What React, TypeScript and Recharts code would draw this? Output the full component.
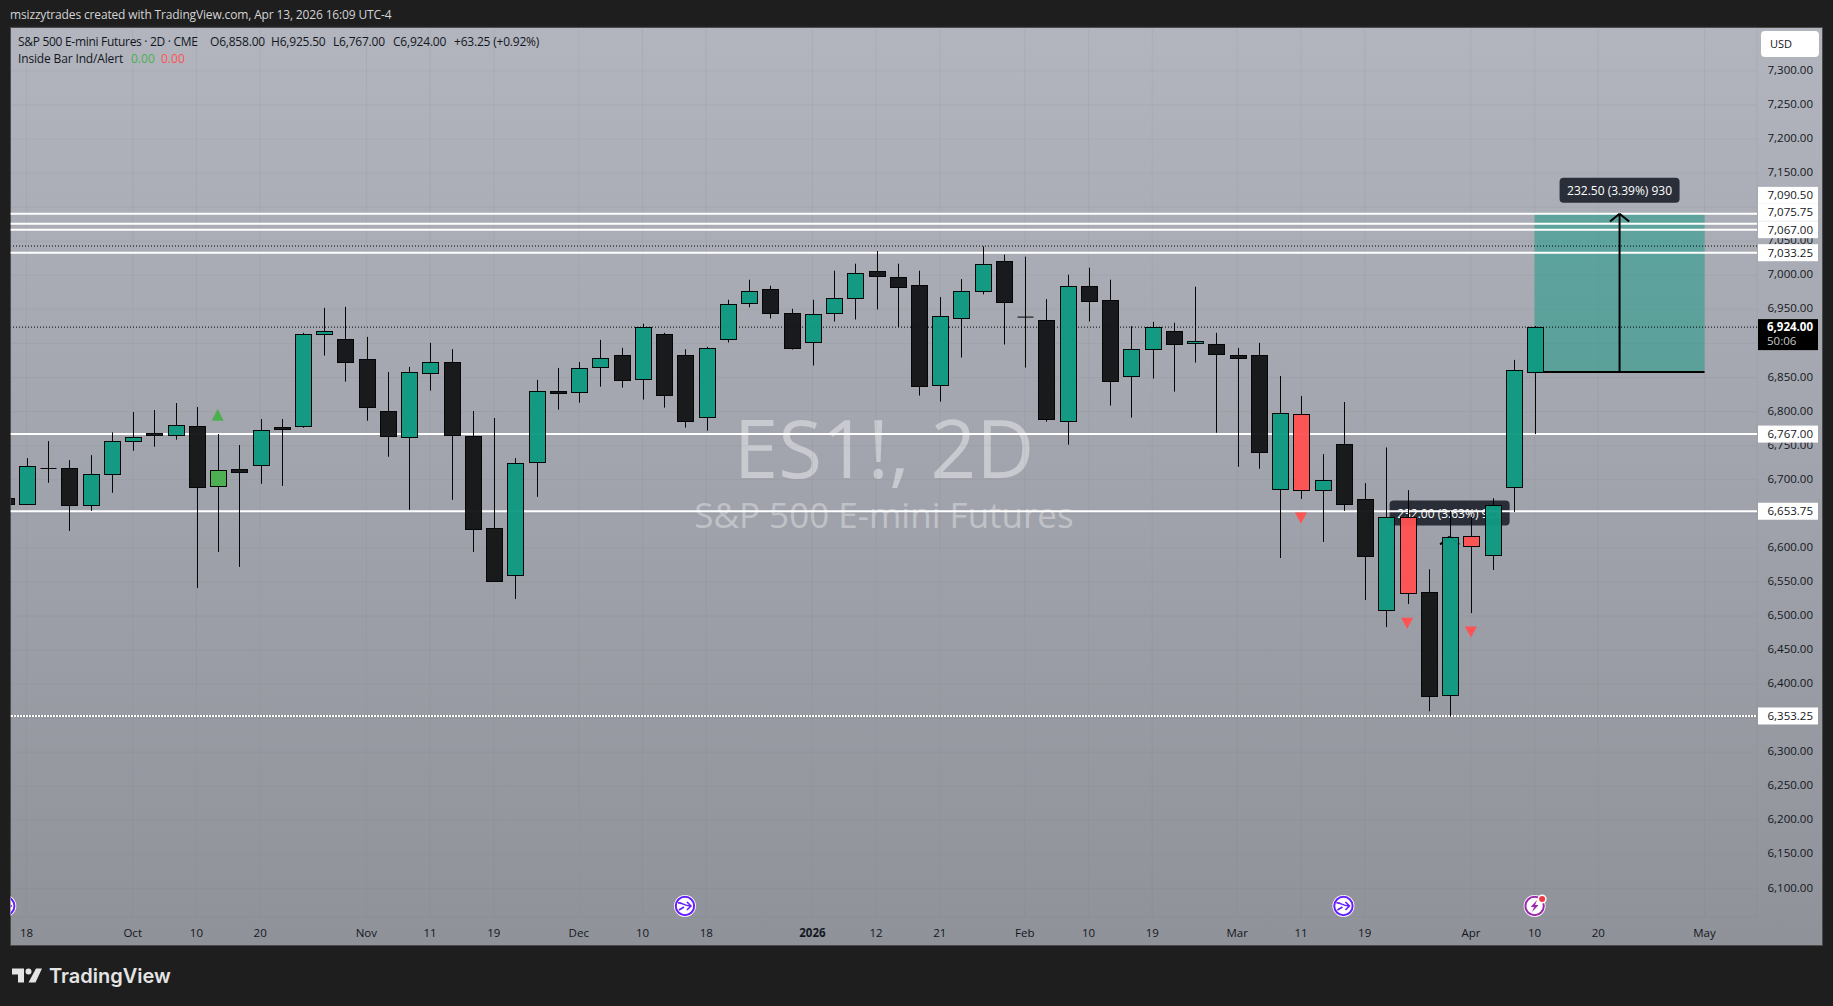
import { ComposedChart, Bar, Scatter, XAxis, YAxis, CartesianGrid, ReferenceLine, ReferenceArea, ReferenceDot } from 'recharts';

const FONT = '"Open Sans", "Noto Sans", sans-serif';

// 2D candles, first one is the bar cut off by the left edge of the pane (index -1)
const opens = [6672.9, 6663.6, 6716.5, 6716.5, 6662.1, 6707.7, 6756.2, 6768, 6765.1, 6778.3, 6690, 6715.1, 6721, 6777.3, 6778.3, 6913.1, 6906.3, 6876.8, 6800.4, 6762.1, 6856.3, 6872.4, 6763.6, 6629.8, 6559.2, 6725.4, 6829.8, 6828.3, 6865.1, 6882.8, 6847.5, 6913.7, 6882.8, 6791.6, 6906.3, 6959.2, 6979.8, 6944.5, 6901.9, 6944.5, 6966.6, 7006.3, 6997.5, 6985.7, 6838.6, 6937.2, 6976.9, 7021, 6938.7, 6934.2, 6785.7, 6984.2, 6963.7, 6851.9, 6891.6, 6918.1, 6900.4, 6899, 6882.7, 6882.7, 6685.7, 6796, 6684.2, 6751.9, 6672.4, 6509.2, 6645.9, 6535.6, 6384.2, 6618, 6590, 6688.6, 6858];
const highs = [6680, 6731.7, 6756.7, 6728.8, 6736.1, 6769.5, 6799.4, 6802.3, 6812.6, 6806.7, 6767, 6750.9, 6789.1, 6789.1, 6915.6, 6952.3, 6953.8, 6909.7, 6858.2, 6865.6, 6900.9, 6891.6, 6800.9, 6790.6, 6731.7, 6846.5, 6864.1, 6872.9, 6905.3, 6893.6, 6928.9, 6915.6, 6891.6, 6895, 6964.2, 6993.6, 6984.7, 6950.9, 6964.2, 7006.8, 7017.1, 7035.7, 7017.1, 7006.8, 6968.1, 6994.5, 7042.6, 7030.3, 7027.4, 6965.1, 7000.9, 7011.2, 6993.6, 6925.4, 6931.8, 6930.3, 6983.3, 6915.6, 6893.5, 6900.9, 6852.3, 6822.9, 6737.6, 6814.1, 6695, 6747.4, 6684.7, 6568.5, 6653.8, 6645.4, 6672.9, 6875.9, 6925.5];
const lows = [6650, 6663.6, 6695.5, 6624.9, 6654.3, 6680.8, 6742.5, 6748.4, 6758.7, 6541, 6594, 6572, 6694, 6691, 6776.3, 6882.2, 6844, 6786.6, 6733.7, 6655.8, 6830.8, 6670.5, 6594, 6551.8, 6524.9, 6674.9, 6802.8, 6813.1, 6836.6, 6835.2, 6817.6, 6805.8, 6776.4, 6772, 6901.4, 6952.9, 6936.7, 6891.1, 6867.6, 6932.3, 6935.2, 6949.9, 6924, 6823.5, 6814.6, 6879.3, 6972, 6898.5, 6864.6, 6785.2, 6751.4, 6932.3, 6808.8, 6791.1, 6848.5, 6829.3, 6872, 6769, 6719, 6716.1, 6585.1, 6671.9, 6608.7, 6654.3, 6523.4, 6483.7, 6517.5, 6360.1, 6352.3, 6504.3, 6567.5, 6652.8, 6767];
const closes = [6664.6, 6719.5, 6716.5, 6662.1, 6707.7, 6756.2, 6762.1, 6764.6, 6779.8, 6688.6, 6713.6, 6710.2, 6772.4, 6774.9, 6913.6, 6918, 6872.4, 6806.2, 6763.6, 6857.7, 6872.4, 6765.1, 6626.8, 6551.8, 6723.9, 6829.8, 6826.4, 6863.6, 6878.3, 6845.5, 6924, 6823.9, 6785.7, 6893.1, 6957.8, 6976.9, 6944.5, 6893.1, 6943.1, 6966.6, 7003.4, 6998.5, 6982.8, 6837.2, 6940.1, 6976.9, 7016.6, 6960.7, 6938.7, 6788.7, 6984.2, 6962.2, 6844.5, 6891.6, 6924, 6899, 6903.4, 6884.2, 6877.8, 6739.6, 6797.4, 6684.2, 6698.9, 6663.6, 6588.6, 6645.9, 6534.2, 6382.7, 6616.5, 6602.8, 6663.6, 6860.7, 6924];

const insideUpBars = [9];
const insideDownBars = [60, 65, 68];

const upMarkers = [{ idx: 9, price: 6795.5 }];
const downMarkers = [
  { idx: 60, price: 6644 },
  { idx: 65, price: 6489.5 },
  { idx: 68, price: 6476.6 },
];
const dividendEvents = [{ idx: -1, price: 6074.4 }, { idx: 31, price: 6074.4 }, { idx: 62, price: 6074.4 }];
const earningsEvents = [{ idx: 71, price: 6074.4 }];

const priceTicks = [7300, 7250, 7200, 7150, 7100, 7050, 7000, 6950, 6900, 6850, 6800, 6750, 6700, 6650, 6600, 6550, 6500, 6450, 6400, 6350, 6300, 6250, 6200, 6150, 6100];
// these sit fully behind a price tag in the picture
const coveredTicks = [7100, 6900, 6650, 6350];
const timeTicks = [0, 5, 8, 11, 16, 19, 22, 26, 29, 32, 37, 40, 43, 47, 50, 53, 57, 60, 63, 68, 71, 74, 79];
const timeLabels = ['18', 'Oct', '10', '20', 'Nov', '11', '19', 'Dec', '10', '18', '2026', '12', '21', 'Feb', '10', '19', 'Mar', '11', '19', 'Apr', '10', '20', 'May'];

const levels = [7090.5, 7075.75, 7067, 7033.25, 6767, 6653.75, 6353.25];
const dottedLevels = [7043, 6924, 6353.25];

const candles = opens.map((open, i) => ({
  idx: i - 1,
  open,
  high: highs[i],
  low: lows[i],
  close: closes[i],
}));

const PRICE_DOMAIN = [6058.2, 7364.5];
const TIME_DOMAIN = [-0.744, 81.47];
const MARGIN = { top: 27, right: 11, bottom: 61, left: 10.7 };

const fmt = (v: number) => v.toLocaleString('en-US', { minimumFractionDigits: 2, maximumFractionDigits: 2 });

function Candle(props: any) {
  const { x, y, width, height, payload } = props;
  const { open, close, high, low, idx } = payload;
  const perPoint = height / (high - low);
  const top = y + (high - Math.max(open, close)) * perPoint;
  const bottom = y + (high - Math.min(open, close)) * perPoint;
  const cx = Math.round(x + width / 2) + 0.5;
  let fill = close >= open ? '#0f9a82' : '#141517';
  if (insideUpBars.includes(idx)) fill = '#4caf50';
  if (insideDownBars.includes(idx)) fill = '#ff5252';
  return (
    <g opacity={0.96}>
      <line x1={cx} x2={cx} y1={y} y2={y + height} stroke="#000" strokeWidth={1} />
      {open === close ? (
        <line x1={cx - 8} x2={cx + 8} y1={top} y2={top} stroke="#000" strokeWidth={1} />
      ) : (
        <rect x={cx - 8} y={Math.round(top) + 0.5} width={16} height={Math.max(Math.round(bottom - top), 1)} fill={fill} stroke="#000" strokeWidth={1} />
      )}
    </g>
  );
}

function Triangle(props: any) {
  const { cx, cy, up } = props;
  const points = up
    ? `${cx - 6},${cy + 6} ${cx + 6},${cy + 6} ${cx},${cy - 6}`
    : `${cx - 6},${cy - 5.5} ${cx + 6},${cy - 5.5} ${cx},${cy + 5.5}`;
  return <polygon points={points} fill={up ? '#4caf50' : '#ff5252'} />;
}

function DividendIcon({ cx, cy }: any) {
  return (
    <g>
      <circle cx={cx} cy={cy} r={11} fill="#fff" />
      <circle cx={cx} cy={cy} r={9.2} fill="#fff" stroke="#651fff" strokeWidth={2} />
      <path d={`M${cx - 7},${cy - 3} C${cx - 3},${cy - 4} ${cx - 2},${cy} ${cx + 6},${cy} M${cx + 2},${cy - 4} L${cx + 6},${cy} L${cx + 2},${cy + 4} M${cx - 6},${cy + 4} L${cx - 1},${cy + 1}`} fill="none" stroke="#651fff" strokeWidth={1.6} />
    </g>
  );
}

function EarningsIcon({ cx, cy }: any) {
  return (
    <g>
      <circle cx={cx} cy={cy} r={11} fill="#fff" />
      <circle cx={cx} cy={cy} r={9.2} fill="#fff" stroke="#9c27b0" strokeWidth={2} />
      <path d={`M${cx + 2.5},${cy - 6} L${cx - 4},${cy + 1} L${cx - 0.5},${cy + 1} L${cx - 2.5},${cy + 6} L${cx + 4},${cy - 1} L${cx + 0.5},${cy - 1} Z`} fill="#9c27b0" />
      <circle cx={cx + 7.5} cy={cy - 7} r={4.5} fill="#fff" />
      <circle cx={cx + 7.5} cy={cy - 7} r={3} fill="#f23645" />
    </g>
  );
}

function PriceTag(props: any) {
  const { viewBox, value, shift = 0 } = props;
  const cy = viewBox.y + shift;
  return (
    <g>
      <rect x={1758} y={cy - 8.5} width={60} height={17} fill="#fff" />
      <text x={1813} y={cy + 4} textAnchor="end" fontSize={11.5} fill="#131722">{fmt(value)}</text>
    </g>
  );
}

function LastPriceTag(props: any) {
  const { viewBox } = props;
  const cy = viewBox.y;
  return (
    <g>
      <rect x={1758} y={cy - 8} width={60} height={31} fill="#000" />
      <text x={1813} y={cy + 4} textAnchor="end" fontSize={11.5} fontWeight={700} fill="#fff">6,924.00</text>
      <text x={1767} y={cy + 18} fontSize={11.5} fill="#c8c8c8">50:06</text>
    </g>
  );
}

function MeasureLabel(props: any) {
  const { cx, cy, text } = props;
  return (
    <g>
      <rect x={cx - 60} y={cy - 36} width={120} height={25} rx={4} fill="#2a2e39" />
      <text x={cx} y={cy - 19} textAnchor="middle" fontSize={12} fill="#fff">{text}</text>
    </g>
  );
}

function TimeTick(props: any) {
  const { x, y, index } = props;
  const label = timeLabels[index];
  return (
    <text x={x} y={y + 12} textAnchor="middle" fontSize={11.5} fill="#131722" fontWeight={label === '2026' ? 700 : 400}>
      {label}
    </text>
  );
}

function PriceTick(props: any) {
  const { y, payload } = props;
  if (coveredTicks.includes(payload.value)) return <g />;
  return (
    <text x={1813} y={y + 3} textAnchor="end" fontSize={11.5} fill="#131722">{fmt(payload.value)}</text>
  );
}

function Txt({ x, y, size = 12, color = '#131722', spacing = 0, children }: any) {
  return (
    <div style={{ position: 'absolute', left: x, top: y, fontSize: size, lineHeight: '16px', color, letterSpacing: spacing, whiteSpace: 'nowrap' }}>
      {children}
    </div>
  );
}

export default function App() {
  return (
    <div style={{ position: 'fixed', left: 0, top: 0, width: 1833, height: 1006, background: '#1e1e1e', overflow: 'hidden', fontFamily: FONT }}>
      <Txt x={10} y={7} color="#d4d4d4" spacing={-0.15}>msizzytrades created with TradingView.com, Apr 13, 2026 16:09 UTC-4</Txt>

      {/* pane background, watermark sits under the candles */}
      <div style={{ position: 'absolute', left: 10, top: 27, width: 1811, height: 917, border: '1px solid #4a4a4a', background: 'linear-gradient(#b2b5be, #8f9299)' }} />
      <div style={{ position: 'absolute', left: 584, width: 600, top: 397, textAlign: 'center', fontSize: 80, lineHeight: '100px', color: '#c8cad0' }}>ES1!, 2D</div>
      <div style={{ position: 'absolute', left: 584, width: 600, top: 490, textAlign: 'center', fontSize: 35, lineHeight: '50px', color: '#c0c2c8' }}>S&amp;P 500 E-mini Futures</div>

      <div style={{ position: 'absolute', left: 0, top: 0 }}>
        <ComposedChart width={1833} height={1006} data={candles} margin={MARGIN}>
          <CartesianGrid stroke="rgba(120,123,134,0.12)" />
          <XAxis dataKey="idx" type="number" domain={TIME_DOMAIN} allowDataOverflow ticks={timeTicks} interval={0} height={28} tick={<TimeTick />} tickLine={false} axisLine={false} />
          <YAxis orientation="right" type="number" domain={PRICE_DOMAIN} allowDataOverflow ticks={priceTicks} interval={0} width={65} tick={<PriceTick />} tickLine={false} axisLine={false} />

          <ReferenceDot zIndex={60} x={67} y={6616.5} r={0} shape={(p: any) => <MeasureLabel {...p} text="232.00 (3.63%) 928" />} />
          <ReferenceLine zIndex={60} segment={[{ x: 66.55, y: 6605 }, { x: 67, y: 6616.5 }]} stroke="#000" strokeWidth={2} />
          <ReferenceLine zIndex={60} segment={[{ x: 67.45, y: 6605 }, { x: 67, y: 6616.5 }]} stroke="#000" strokeWidth={2} />

          <ReferenceArea zIndex={70} x1={71} x2={79} y1={6858} y2={7090.5} fill="#089981" fillOpacity={0.47} stroke="none" />

          {levels.map((level) => (
            <ReferenceLine key={level} zIndex={100} y={level} stroke="#fff" strokeWidth={2} />
          ))}
          {dottedLevels.map((level) => (
            <ReferenceLine key={level} zIndex={110} y={level} stroke="#000" strokeDasharray="1 2" />
          ))}

          <ReferenceLine zIndex={150} segment={[{ x: 71, y: 6858 }, { x: 79, y: 6858 }]} stroke="#000" strokeWidth={2} />
          <ReferenceLine zIndex={150} segment={[{ x: 75, y: 6858 }, { x: 75, y: 7090.5 }]} stroke="#000" strokeWidth={2} />
          <ReferenceLine zIndex={150} segment={[{ x: 74.55, y: 7079 }, { x: 75, y: 7090.5 }]} stroke="#000" strokeWidth={2} />
          <ReferenceLine zIndex={150} segment={[{ x: 75.45, y: 7079 }, { x: 75, y: 7090.5 }]} stroke="#000" strokeWidth={2} />

          <Bar dataKey={(d: any) => [d.low, d.high]} barSize={16} shape={<Candle />} isAnimationActive={false} />

          <Scatter data={upMarkers} dataKey="price" isAnimationActive={false} shape={(p: any) => <Triangle {...p} up />} />
          <Scatter data={downMarkers} dataKey="price" isAnimationActive={false} shape={(p: any) => <Triangle {...p} />} />
          <Scatter data={dividendEvents} dataKey="price" isAnimationActive={false} shape={(p: any) => <DividendIcon {...p} />} />
          <Scatter data={earningsEvents} dataKey="price" isAnimationActive={false} shape={(p: any) => <EarningsIcon {...p} />} />

          <ReferenceDot x={75} y={7090.5} r={0} shape={(p: any) => <MeasureLabel {...p} text="232.50 (3.39%) 930" />} />
        </ComposedChart>
      </div>

      {/* price tags cover the axis labels, so they get their own chart on top with the same scales */}
      <div style={{ position: 'absolute', left: 0, top: 0 }}>
        <ComposedChart width={1833} height={1006} data={candles} margin={MARGIN}>
          <XAxis dataKey="idx" type="number" domain={TIME_DOMAIN} allowDataOverflow height={28} tick={false} tickLine={false} axisLine={false} />
          <YAxis orientation="right" type="number" domain={PRICE_DOMAIN} allowDataOverflow width={65} tick={false} tickLine={false} axisLine={false} />
          {levels.map((level) => (
            <ReferenceLine
              key={level}
              y={level}
              stroke="none"
              label={<PriceTag value={level} shift={level === 7090.5 ? -18.3 : level === 7075.75 ? -11.3 : 0} />}
            />
          ))}
          <ReferenceLine y={6924} stroke="none" label={<LastPriceTag />} />
        </ComposedChart>
      </div>

      {/* legend */}
      <Txt x={18} y={34} spacing={-0.3}>S&amp;P 500 E-mini Futures · 2D · CME</Txt>
      <Txt x={210} y={34} spacing={-0.2}>O6,858.00</Txt>
      <Txt x={271} y={34} spacing={-0.2}>H6,925.50</Txt>
      <Txt x={333} y={34} spacing={-0.2}>L6,767.00</Txt>
      <Txt x={393} y={34} spacing={-0.2}>C6,924.00</Txt>
      <Txt x={454} y={34} spacing={-0.2}>+63.25 (+0.92%)</Txt>
      <Txt x={18} y={51} spacing={-0.15}>Inside Bar Ind/Alert</Txt>
      <Txt x={131} y={51} color="#4caf50">0.00</Txt>
      <Txt x={161} y={51} color="#ff5252">0.00</Txt>

      <div style={{ position: 'absolute', left: 1761, top: 31, width: 58, height: 26, background: '#fff', borderRadius: 4 }} />
      <Txt x={1770} y={36} size={11}>USD</Txt>

      {/* logo */}
      <svg style={{ position: 'absolute', left: 0, top: 950 }} width={60} height={50}>
        <path d="M12,18.5 H24 V32.5 H18 V24.5 H12 Z M36,18.5 H42 L35.5,32.5 H28.5 Z" fill="#e4e4e4" />
        <circle cx={28.5} cy={21.5} r={3} fill="#e4e4e4" />
      </svg>
      <div style={{ position: 'absolute', left: 49, top: 962, fontFamily: 'Inter, sans-serif', fontWeight: 600, fontSize: 20, lineHeight: '28px', color: '#e4e4e4' }}>TradingView</div>
    </div>
  );
}
